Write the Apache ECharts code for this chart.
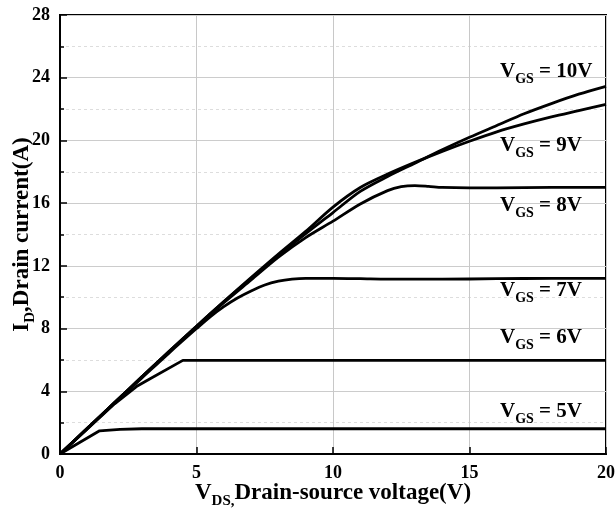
<!DOCTYPE html>
<html>
<head>
<meta charset="utf-8">
<script src="https://cdn.jsdelivr.net/npm/echarts@6/dist/echarts.min.js"></script>
<style>
html, body { margin: 0; padding: 0; background: #fff; }
#container1 { width: 616px; height: 513px; }
</style>
</head>
<body>
<div id="container1"></div>
<script>
// output curves, [Vds, Id] pairs
var vgs10 = [[0,0],[1,1.64],[2,3.28],[3,4.92],[4,6.55],[5,8.15],[6,9.7],[7,11.2],[8,12.65],[9,14.05],[10,15.4],[11,16.75],[12,17.7],[13,18.55],[14,19.4],[15,20.2],[16,20.95],[17,21.7],[18,22.35],[19,22.95],[20,23.45]];
var vgs9 = [[0,0],[1,1.64],[2,3.28],[3,4.92],[4,6.55],[5,8.15],[6,9.72],[7,11.25],[8,12.75],[9,14.2],[10,15.75],[11,17.0],[12,17.85],[13,18.6],[14,19.3],[15,19.95],[16,20.55],[17,21.05],[18,21.5],[19,21.9],[20,22.3]];
var vgs8 = [[0,0],[1,1.64],[2,3.28],[3,4.92],[4,6.52],[5,8.1],[6,9.65],[7,11.1],[8,12.55],[9,13.8],[10,14.85],[11,15.95],[12,16.8],[12.5,17.05],[13,17.12],[13.5,17.07],[14,17.0],[15,16.97],[16,16.98],[18,17.0],[20,17.0]];
var vgs7 = [[0,0],[1,1.62],[2,3.25],[3,4.85],[4,6.45],[5,8.0],[5.5,8.75],[6,9.4],[6.5,9.95],[7,10.4],[7.5,10.78],[8,11.02],[8.5,11.15],[9,11.2],[10,11.2],[11,11.18],[12,11.15],[14,11.15],[16,11.18],[18,11.2],[20,11.2]];
var vgs6 = [[0,0],[1,1.6],[2,3.2],[2.8,4.3],[3.3,4.8],[4.5,5.97],[20,5.97]];
var vgs5 = [[0,0],[1.45,1.48],[2.2,1.57],[3,1.61],[20,1.61]];

var curveNames = ['10V', '9V', '8V', '7V', '6V', '5V'];
var curveData = [vgs10, vgs9, vgs8, vgs7, vgs6, vgs5];
var curveSmooth = [0.3, 0.3, 0.3, 0.3, false, false];

var xTicks = [0, 5, 10, 15, 20];
var yTicks = [0, 4, 8, 12, 16, 20, 24, 28];

var labelTops = [61, 135, 195, 280, 327, 401];

var dom = document.getElementById("container1");
var myChart = echarts.init(dom);
var serif = 'Liberation Serif';

var series = [];
for (var i = 0; i < curveData.length; i++) {
	series.push({
		name : 'VGS = ' + curveNames[i],
		type : 'line',
		data : curveData[i],
		smooth : curveSmooth[i],
		showSymbol : false,
		lineStyle : { color : '#000', width : 2.8 },
		z : 5
	});
}

var graphics = [];
for (var j = 0; j < curveNames.length; j++) {
	graphics.push({
		type : 'text',
		left : 500,
		top : labelTops[j],
		z : 10,
		style : {
			text : '{v|V}{s|GS}{v| = ' + curveNames[j] + '}',
			fill : '#000',
			rich : {
				v : { fontFamily : serif, fontWeight : 'bold', fontSize : 21, lineHeight : 22, verticalAlign : 'top' },
				s : { fontFamily : serif, fontWeight : 'bold', fontSize : 14, lineHeight : 14, verticalAlign : 'top', padding : [11, 0, 0, 0] }
			}
		}
	});
}

myChart.setOption({
	animation : false,
	grid : {
		left : 60,
		right : 10,
		top : 15,
		bottom : 59,
		outerBoundsMode : 'none',
		containLabel : false,
		show : true,
		borderColor : '#000',
		borderWidth : 2
	},
	xAxis : {
		type : 'value',
		min : xTicks[0],
		max : xTicks[xTicks.length - 1],
		interval : 5,
		name : '{m|V}{s|DS,}{m|Drain-source voltage(V)}',
		nameLocation : 'middle',
		nameGap : 28,
		nameMoveOverlap : false,
		nameTextStyle : {
			rich : {
				m : { fontFamily : serif, fontWeight : 'bold', fontSize : 23, color : '#000', lineHeight : 24, verticalAlign : 'top' },
				s : { fontFamily : serif, fontWeight : 'bold', fontSize : 15, color : '#000', lineHeight : 15, verticalAlign : 'top', padding : [12, 0, 0, 0] }
			}
		},
		axisLine : { lineStyle : { color : '#000', width : 2 } },
		axisTick : { inside : true, length : 7, lineStyle : { color : '#000', width : 1.5 } },
		axisLabel : { fontFamily : serif, fontWeight : 'bold', fontSize : 18, color : '#000', margin : 10 },
		splitLine : { show : true, lineStyle : { color : '#c8c8c8', width : 1 } }
	},
	yAxis : {
		type : 'value',
		min : yTicks[0],
		max : yTicks[yTicks.length - 1],
		interval : 4,
		name : '{m|I}{s|D}{m|,Drain current(A)}',
		nameLocation : 'middle',
		nameGap : 25,
		nameRotate : 90,
		nameMoveOverlap : false,
		nameTextStyle : {
			rich : {
				m : { fontFamily : serif, fontWeight : 'bold', fontSize : 23, color : '#000', lineHeight : 24, verticalAlign : 'top' },
				s : { fontFamily : serif, fontWeight : 'bold', fontSize : 15, color : '#000', lineHeight : 15, verticalAlign : 'top', padding : [12, 0, 0, 0] }
			}
		},
		axisLine : { lineStyle : { color : '#000', width : 2 } },
		axisTick : { inside : true, length : 7, lineStyle : { color : '#000', width : 1.5 } },
		minorTick : { show : true, splitNumber : 2, length : 4, lineStyle : { color : '#000', width : 1.5 } },
		axisLabel : { fontFamily : serif, fontWeight : 'bold', fontSize : 18, color : '#000', margin : 10 },
		splitLine : { show : true, lineStyle : { color : '#cccccc', width : 1 } },
		minorSplitLine : { show : true, lineStyle : { color : '#dddddd', width : 1, type : [3, 3] } }
	},
	graphic : graphics,
	series : series
});
</script>
</body>
</html>
